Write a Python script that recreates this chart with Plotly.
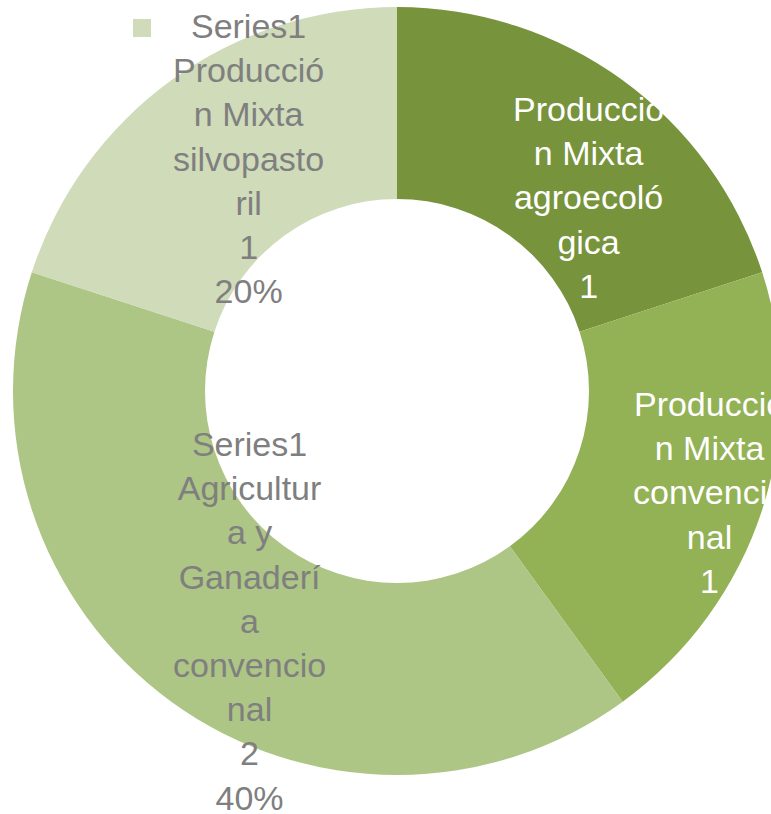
import plotly.graph_objects as go

categorias = ["Producción Mixta agroecológica",
              "Producción Mixta convencional",
              "Agricultura y Ganadería convencional",
              "Producción Mixta silvopastoril"]
valores = [1, 1, 2, 1]
# etiquetas tal como las corta Excel en el gráfico original
etiquetas = [["Producció", "n Mixta", "agroecoló", "gica"],
             ["Producció", "n Mixta", "convencio", "nal"],
             ["Agricultur", "a y", "Ganaderí", "a", "convencio", "nal"],
             ["Producció", "n Mixta", "silvopasto", "ril"]]
serie = "Series1"
colores = ["#77933C", "#93B155", "#ADC585", "#CFDBB9"]

W, H = 794, 814
M_T, M_B = 7, 39

fig = go.Figure(go.Pie(labels=categorias,
                       values=valores,
                       hole=0.5,
                       sort=False,
                       direction="clockwise",
                       rotation=0,
                       textinfo="none",
                       marker=dict(colors=colores, line=dict(width=0)),
                       showlegend=False,
                       hovertemplate="%{label}<br>%{value} (%{percent})<extra></extra>"))

total = sum(valores)

# posición (px) del centro de cada etiqueta, si lleva nombre de serie y porcentaje, y color
posiciones = [(588, 197), (709, 492), (250, 621), (248, 159)]
con_serie = [False, False, True, True]
color_texto = ["white", "white", "#7F7F7F", "#7F7F7F"]


def px_a_paper(x, y):
    return x / W, (H - M_B - y) / (H - M_T - M_B)


for i in range(len(categorias)):
    lineas = list(etiquetas[i])
    lineas.append(str(valores[i]))
    if con_serie[i]:
        lineas = [serie] + lineas + [f"{round(100 * valores[i] / total)}%"]
    x, y = px_a_paper(*posiciones[i])
    fig.add_annotation(x=x, y=y, xref="paper", yref="paper",
                       xanchor="center", yanchor="middle",
                       text="<br>".join(lineas), showarrow=False, align="center",
                       font=dict(size=34, color=color_texto[i], family="Liberation Sans, Arial"))

# clave de leyenda junto a la etiqueta de silvopastoril
x0, y0 = px_a_paper(133, 37)
x1, y1 = px_a_paper(151, 19)
fig.add_shape(type="rect", xref="paper", yref="paper", x0=x0, y0=y0, x1=x1, y1=y1,
              fillcolor=colores[3], line=dict(width=0))

fig.update_layout(width=W, height=H,
                  margin=dict(l=0, r=0, t=M_T, b=M_B),
                  paper_bgcolor="white", plot_bgcolor="white",
                  font=dict(family="Liberation Sans, Arial"))

fig.write_html("out.html",
               config={"displayModeBar": False},
               post_script="document.documentElement.style.overflow='hidden';"
                           "document.body.style.overflow='hidden';"
                           "document.body.style.margin='0';")
